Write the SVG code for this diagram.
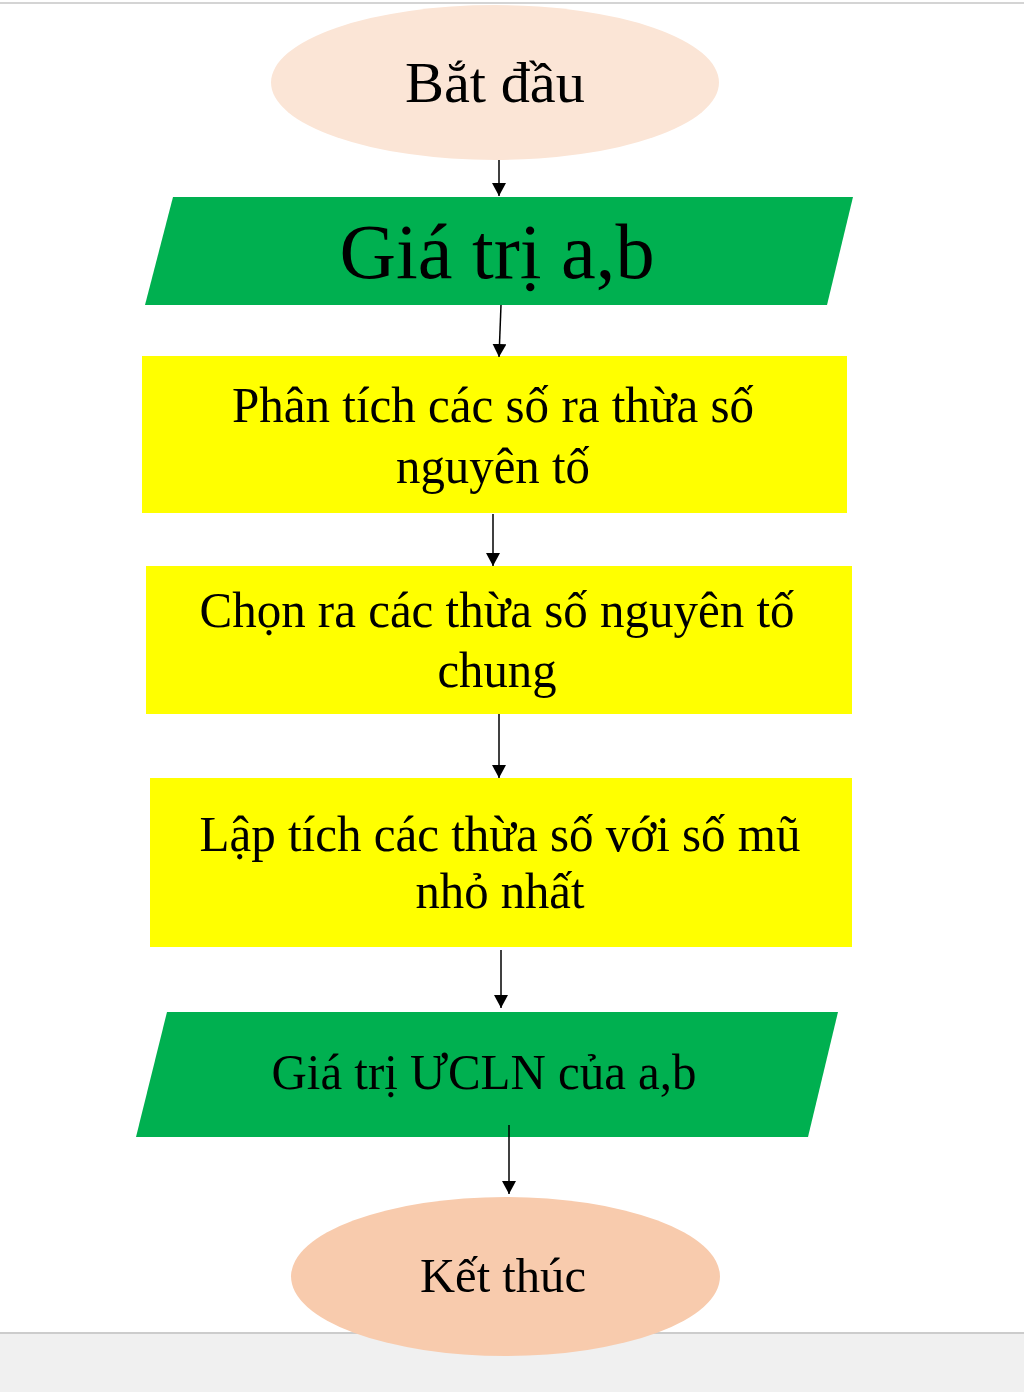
<svg xmlns="http://www.w3.org/2000/svg" width="1024" height="1392" viewBox="0 0 1024 1392">
  <defs>
    <marker id="ah" markerUnits="userSpaceOnUse" markerWidth="14" markerHeight="14" refX="13" refY="7" orient="auto">
      <path d="M0,0 L13,7 L0,14 Z" fill="#000"/>
    </marker>
  </defs>
  <style>
    text { font-family: "Liberation Serif", "Times New Roman", serif; fill: #000; text-anchor: middle; }
    .conn { stroke: #000; stroke-width: 1.5; fill: none; marker-end: url(#ah); }
    .green { fill: #00b050; }
    .yellow { fill: #ffff00; }
    .t48 { font-size: 50px; }
  </style>
  <rect x="0" y="0" width="1024" height="1392" fill="#ffffff"/>
  <rect x="0" y="2" width="1024" height="2" fill="#d4d4d4"/>
  <g id="bottom-band">
    <rect x="0" y="1333" width="1024" height="59" fill="#f0f0f0"/>
    <rect x="0" y="1332" width="1024" height="2" fill="#cccccc"/>
  </g>

  <g id="start">
    <ellipse cx="495" cy="82.5" rx="224" ry="77.5" fill="#fbe5d6"/>
    <text x="495" y="102" font-size="57" textLength="180" lengthAdjust="spacingAndGlyphs">Bắt đầu</text>
  </g>

  <g id="input">
    <polygon class="green" points="173,197 853,197 827,305 145,305"/>
    <text x="497" y="278" font-size="78" textLength="315" lengthAdjust="spacingAndGlyphs">Giá trị a,b</text>
  </g>

  <g id="step1">
    <rect class="yellow" x="142" y="356" width="705" height="157"/>
    <text class="t48" x="493" y="422" textLength="522" lengthAdjust="spacingAndGlyphs">Phân tích các số ra thừa số</text>
    <text class="t48" x="493" y="483" textLength="194" lengthAdjust="spacingAndGlyphs">nguyên tố</text>
  </g>

  <g id="step2">
    <rect class="yellow" x="146" y="566" width="706" height="148"/>
    <text class="t48" x="497" y="627" textLength="595" lengthAdjust="spacingAndGlyphs">Chọn ra các thừa số nguyên tố</text>
    <text class="t48" x="497" y="687" textLength="119" lengthAdjust="spacingAndGlyphs">chung</text>
  </g>

  <g id="step3">
    <rect class="yellow" x="150" y="778" width="702" height="169"/>
    <text class="t48" x="500" y="851" textLength="601" lengthAdjust="spacingAndGlyphs">Lập tích các thừa số với số mũ</text>
    <text class="t48" x="500" y="908" textLength="169" lengthAdjust="spacingAndGlyphs">nhỏ nhất</text>
  </g>

  <g id="output">
    <polygon class="green" points="167,1012 838,1012 808,1137 136,1137"/>
    <text class="t48" x="484" y="1089" textLength="425" lengthAdjust="spacingAndGlyphs">Giá trị ƯCLN của a,b</text>
  </g>

  <g id="end">
    <ellipse cx="505.5" cy="1276.5" rx="214.5" ry="79.5" fill="#f8cbad"/>
    <text x="503" y="1292" font-size="48" textLength="166" lengthAdjust="spacingAndGlyphs">Kết thúc</text>
  </g>

  <g id="connectors">
    <line class="conn" x1="499" y1="160" x2="499" y2="196"/>
    <line class="conn" x1="501" y1="305" x2="499" y2="357"/>
    <line class="conn" x1="493" y1="514" x2="493" y2="566"/>
    <line class="conn" x1="499" y1="714" x2="499" y2="778"/>
    <line class="conn" x1="501" y1="950" x2="501" y2="1008"/>
    <line class="conn" x1="509" y1="1125" x2="509" y2="1194"/>
  </g>
</svg>
